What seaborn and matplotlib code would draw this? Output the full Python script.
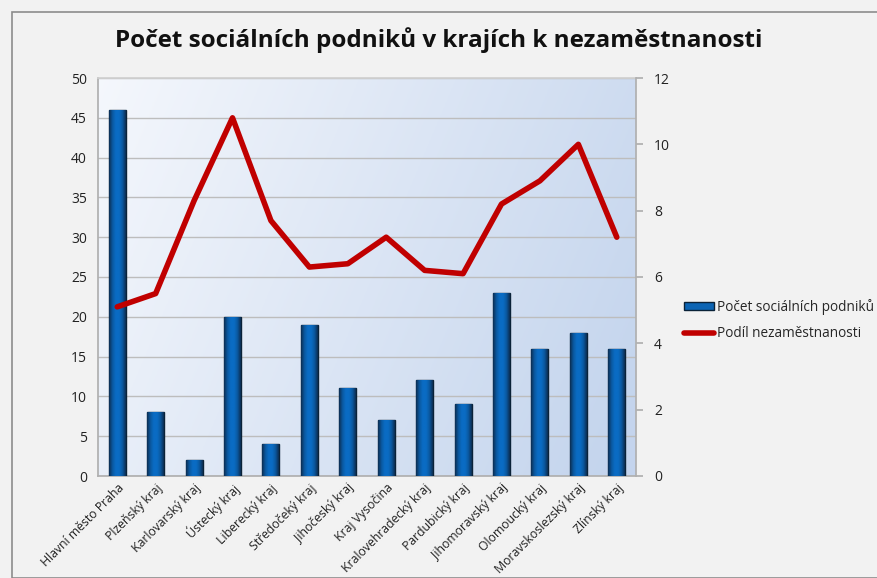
import numpy as np
import pandas as pd
import matplotlib
matplotlib.use("Agg")
import matplotlib.pyplot as plt
import seaborn as sns
from matplotlib.patches import Rectangle
from matplotlib.lines import Line2D
from matplotlib.patches import Patch
from matplotlib.colors import LinearSegmentedColormap

regions = ["Hlavní město Praha", "Plzeňský kraj", "Karlovarský kraj", "Ústecký kraj",
           "Liberecký kraj", "Středočeký kraj", "Jihočeský kraj", "Kraj Vysočina",
           "Kralovehradecký kraj", "Pardubický kraj", "Jihomoravský kraj",
           "Olomoucký kraj", "Moravskoslezský kraj", "Zlínský kraj"]
enterprises = [46, 8, 2, 20, 4, 19, 11, 7, 12, 9, 23, 16, 18, 16]
unemployment = [5.1, 5.5, 8.3, 10.8, 7.7, 6.3, 6.4, 7.2, 6.2, 6.1, 8.2, 8.9, 10.0, 7.2]
bar_label = "Počet sociálních podniků"
line_label = "Podíl nezaměstnanosti"
title = "Počet sociálních podniků v krajích k nezaměstnanosti"

sns.set_theme(style="white")
plt.rcParams['font.family'] = ['Open Sans', 'DejaVu Sans']

df = pd.DataFrame({"region": regions, "enterprises": enterprises, "unemployment": unemployment})

fig = plt.figure(figsize=(8.78, 5.78), dpi=100, facecolor="#f2f2f2")
fig.patches.append(Rectangle((12/878, 0), 1, 1 - 12/578, transform=fig.transFigure,
                             fill=False, edgecolor="#8c8c8c", linewidth=1.2))
ax = fig.add_axes([98/878, 1 - 476/578, (636-98)/878, (476-78)/578])
ax.set_facecolor("none")

# gradient background (top-left light -> right bluish)
xx, yy = np.meshgrid(np.linspace(0, 1, 200), np.linspace(0, 1, 200))  # yy=0 at top (origin upper)
t = np.clip(0.8 * xx + 0.25 * yy, 0, 1)
c0 = np.array([0.96, 0.97, 0.99])
c1 = np.array([0.77, 0.835, 0.93])
img = c0[None, None, :] * (1 - t[..., None]) + c1[None, None, :] * t[..., None]
ax.imshow(img, extent=[0, 1, 0, 1], transform=ax.transAxes, aspect="auto", zorder=-10, origin="upper")

sns.barplot(data=df, x="region", y="enterprises", ax=ax, color="#0b64b4", width=0.44,
            edgecolor="#0a2238", linewidth=1.0, saturation=1, zorder=3)

bar_cmap = LinearSegmentedColormap.from_list(
    "barg", ["#0c2e52", "#0a58a0", "#0a6cc4", "#0a6cc4", "#0a58a0", "#0c2e52"])
grad = np.linspace(0, 1, 64)[None, :]
for p in ax.patches:
    x0, y0, w, h = p.get_x(), p.get_y(), p.get_width(), p.get_height()
    im = ax.imshow(grad, cmap=bar_cmap, extent=[x0, x0 + w, y0, y0 + h], aspect="auto",
                   zorder=3.5, origin="lower")
    im.set_clip_path(p)

ax.set_ylim(0, 50)
ax.set_yticks(range(0, 51, 5))
ax.yaxis.grid(True, color="#bdbdbd", linewidth=1)
ax.set_axisbelow(True)
ax.set_xlim(-0.5, len(regions) - 0.5)
ax.set_xlabel("")
ax.set_ylabel("")
ax.set_xticks(range(len(regions)))
ax.set_xticklabels(regions, rotation=45, ha="right", rotation_mode="anchor", fontsize=8.8, color="#222222")
ax.tick_params(axis="y", labelsize=10, colors="#222222", pad=8, length=0)
ax.tick_params(axis="x", length=0, pad=4)
ax.spines["right"].set_visible(False)
ax.spines["top"].set_color("#d0d0d0")
for s in ["left", "bottom"]:
    ax.spines[s].set_color("#b0b0b0")

ax2 = ax.twinx()
sns.lineplot(x=np.arange(len(regions)), y=unemployment, ax=ax2, color="#c00000", linewidth=4, zorder=5)
ax2.set_ylim(0, 12)
ax2.set_yticks(range(0, 13, 2))
ax2.tick_params(axis="y", labelsize=10, colors="#222222", direction="out", length=5, color="#b0b0b0", pad=8)
for s in ["top", "left", "bottom"]:
    ax2.spines[s].set_visible(False)
ax2.spines["right"].set_color("#b0b0b0")

fig.text(0.5, 1 - 40/578, title, ha="center", va="center", fontsize=17.5, fontweight="bold", color="#111111")

handles = [Patch(facecolor="#0b64b4", edgecolor="#0a2238", label=bar_label),
           Line2D([0], [0], color="#c00000", linewidth=4, label=line_label)]
fig.legend(handles=handles, loc="center left", bbox_to_anchor=(672/878, 1 - 320/578),
           frameon=False, fontsize=9.8, handlelength=2.2, handleheight=0.5,
           handletextpad=0.2, labelspacing=0.8)

fig.savefig("out.png", dpi=100, facecolor=fig.get_facecolor())
